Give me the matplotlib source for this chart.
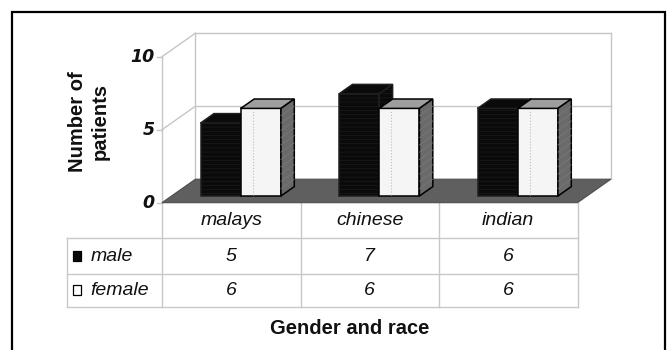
import numpy as np
import matplotlib.pyplot as plt
from matplotlib.patches import Polygon, Rectangle

# patients per race, split by gender
categories = ['malays', 'chinese', 'indian']
male = [5, 7, 6]
female = [6, 6, 6]
series = ['male', 'female']
y_ticks = [0, 5, 10]
y_max = 10

W, H = 668, 350
# front plane of the 3-D box, in pixels
x0_px, x1_px = 162.0, 577.5
y0_px, ytop_px = 202.7, 56.7
depth_px = (33.4, 23.5)
table_rows_px = [202.7, 238.3, 274.0, 306.7]
legend_left_px = 67.3

px_slot = (x1_px - x0_px) / len(categories)
px_unit = (y0_px - ytop_px) / y_max

fig = plt.figure(figsize=(W / 100, H / 100), dpi=100)
ax = fig.add_axes([0, 0, 1, 1])
ax.set_xlim(-x0_px / px_slot, (W - x0_px) / px_slot)
ax.set_ylim((y0_px - H) / px_unit, y0_px / px_unit)
ax.axis('off')

DX = depth_px[0] / px_slot
DY = depth_px[1] / px_unit
n = len(categories)


def P(x, v, t):
    # oblique projection: depth t in [0, 1] moves up and to the right
    return (x + t * DX, v + t * DY)


def px_x(p):
    return p / px_slot


def px_y(p):
    return p / px_unit


grid = '#c6c6c6'

# floor
ax.add_patch(Polygon([P(0, 0, 0), P(n, 0, 0), P(n, 0, 1), P(0, 0, 1)],
                     closed=True, facecolor='#5f5f5f', edgecolor='#4d4d4d',
                     lw=0.8, zorder=2))

# back wall and left wall
for v in y_ticks[1:]:
    xs, ys = zip(P(0, v, 1), P(n, v, 1))
    ax.plot(xs, ys, color=grid, lw=1, zorder=1)
    xs, ys = zip(P(0, v, 0), P(0, v, 1))
    ax.plot(xs, ys, color=grid, lw=1, zorder=1)
for x in [0, n]:
    xs, ys = zip(P(x, 0, 1), P(x, y_max, 1))
    ax.plot(xs, ys, color=grid, lw=1, zorder=1)
ax.plot([0, 0], [0, y_max], color=grid, lw=1, zorder=1)

# value ticks and labels
for v in y_ticks:
    ax.plot([-px_x(5), 0], [v, v], color=grid, lw=1, zorder=1)
    ax.text(-px_x(7), v, str(v), ha='right', va='center', fontsize=12.5,
            fontweight='bold', fontstyle='italic', family='DejaVu Sans',
            color='#111111')

# bars
t0, t1 = 0.285, 0.685
w = 0.29


def bar(xl, h, front, top, side, edge, hatch=None, side_hatch=None, z=3):
    faces = [
        ([P(xl, 0, t0), P(xl + w, 0, t0), P(xl + w, h, t0), P(xl, h, t0)], front, hatch),
        ([P(xl, h, t0), P(xl + w, h, t0), P(xl + w, h, t1), P(xl, h, t1)], top, None),
        ([P(xl + w, 0, t0), P(xl + w, 0, t1), P(xl + w, h, t1), P(xl + w, h, t0)], side, side_hatch),
    ]
    for pts, fc, ht in faces:
        ax.add_patch(Polygon(pts, closed=True, facecolor=fc, edgecolor=edge,
                             lw=1.1, hatch=ht, zorder=z))


plt.rcParams['hatch.linewidth'] = 0.4
for i in range(n):
    xm = i + 0.5 - w
    xf = i + 0.5
    bar(xm, male[i], '#0a0a0a', '#0a0a0a', '#0a0a0a', '#1f1f1f',
        hatch='----', side_hatch='----', z=3 + 2 * i)
    bar(xf, female[i], '#f5f5f5', '#9e9e9e', '#6a6a6a', '#000000', z=4 + 2 * i)
    # faint shading stripes on the side face
    for k in range(1, 12):
        hv = female[i] * k / 12
        xs, ys = zip(P(xf + w, hv, t0), P(xf + w, hv, t1))
        ax.plot(xs, ys, color='#7a7a7a', lw=0.5, zorder=4 + 2 * i + 0.2)
    xs, ys = zip(P(xf + 0.3 * w, 0.1, t0), P(xf + 0.3 * w, female[i] - 0.1, t0))
    ax.plot(xs, ys, color='#bdbdbd', lw=0.8, ls=':', zorder=4 + 2 * i + 0.5)

# data table
rows = [(y0_px - p) / px_unit for p in table_rows_px]
leg_x = (legend_left_px - x0_px) / px_slot
tc = '#c8c8c8'
for r in rows[1:]:
    ax.plot([leg_x, n], [r, r], color=tc, lw=1, zorder=1)
for x in range(n + 1):
    ax.plot([x, x], [rows[0], rows[3]], color=tc, lw=1, zorder=1)
ax.plot([leg_x, leg_x], [rows[1], rows[3]], color=tc, lw=1, zorder=1)

txt = dict(fontsize=14, fontstyle='italic', family='Liberation Sans',
           color='#111111', va='center')
for i, c in enumerate(categories):
    ax.text(i + 0.5, (rows[0] + rows[1]) / 2, c, ha='center', **txt)

key_fc = ['#0a0a0a', '#ffffff']
for j, (name, vals) in enumerate(zip(series, [male, female])):
    yc = (rows[j + 1] + rows[j + 2]) / 2
    ax.add_patch(Rectangle((leg_x + px_x(6), yc - px_y(5)), px_x(8), px_y(10),
                           facecolor=key_fc[j], edgecolor='#000000', lw=0.9))
    ax.text(leg_x + px_x(23.5), yc, name, ha='left', **txt)
    for i, v in enumerate(vals):
        ax.text(i + 0.5, yc, str(v), ha='center', **txt)

# axis titles
ax.text(px_x(89 - x0_px), (y0_px - 122) / px_unit, 'Number of\npatients',
        rotation=90, ha='center', va='center', fontsize=14.5,
        fontweight='bold', family='Liberation Sans', color='#111111',
        linespacing=1.2)
ax.text(px_x(350 - x0_px), (y0_px - 328) / px_unit, 'Gender and race',
        ha='center', va='center', fontsize=14.5, fontweight='bold',
        family='Liberation Sans', color='#111111')

# chart frame
fig.patches.append(Rectangle((12.5 / W, -0.05), 652 / W, 1.05 - 12 / H,
                             transform=fig.transFigure, fill=False,
                             edgecolor='#000000', lw=1.6))

fig.savefig('out.png', dpi=100)
